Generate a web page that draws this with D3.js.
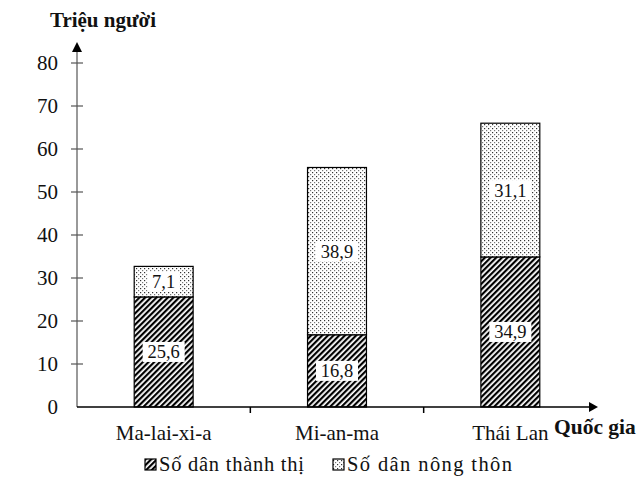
<!DOCTYPE html>
<html>
<head>
<meta charset="utf-8">
<script src="https://cdn.jsdelivr.net/npm/d3@7"></script>
<style>
  body { margin: 0; background: #fff; }
  text { font-family: "Liberation Serif", "Times New Roman", serif; fill: #111; }
</style>
</head>
<body>
<div id="chart"></div>
<script>
const countries = ["Ma-lai-xi-a", "Mi-an-ma", "Thái Lan"];
const urban = [25.6, 16.8, 34.9];
const rural = [7.1, 38.9, 31.1];
const yTicks = [0, 10, 20, 30, 40, 50, 60, 70, 80];
const seriesNames = ["Số dân thành thị", "Số dân nông thôn"];

const W = 644, H = 484;
const x0 = 77, x1 = 597, yBase = 407, yTop = 63;

const svg = d3.select("#chart").append("svg")
  .attr("width", W).attr("height", H);

const defs = svg.append("defs");
// hatch for urban
const hatch = defs.append("pattern")
  .attr("id", "hatch").attr("patternUnits", "userSpaceOnUse")
  .attr("width", 4).attr("height", 4)
  .attr("patternTransform", "rotate(45)");
hatch.append("rect").attr("width", 4).attr("height", 4).attr("fill", "#fff");
hatch.append("rect").attr("width", 2.2).attr("height", 4).attr("fill", "#000");
// dots for rural
const dots = defs.append("pattern")
  .attr("id", "dots").attr("patternUnits", "userSpaceOnUse")
  .attr("width", 4).attr("height", 4);
dots.append("rect").attr("width", 4).attr("height", 4).attr("fill", "#fff");
dots.append("rect").attr("x", 0).attr("y", 0).attr("width", 1.2).attr("height", 1.2).attr("fill", "#333");
dots.append("rect").attr("x", 2).attr("y", 2).attr("width", 1.2).attr("height", 1.2).attr("fill", "#777");

const xScale = d3.scaleBand().domain(countries).range([x0, x1]);
const yScale = d3.scaleLinear().domain([0, 80]).range([yBase, yTop]);
const barW = xScale.bandwidth() * 0.34;

// y axis
svg.append("line")
  .attr("x1", x0).attr("x2", x0).attr("y1", yBase).attr("y2", 50)
  .attr("stroke", "#777").attr("stroke-width", 1.5);
svg.append("path")
  .attr("d", `M${x0 - 5},${52} L${x0 + 5},${52} L${x0},${42} Z`)
  .attr("fill", "#000");

svg.selectAll(".ytick")
  .data(yTicks.filter(d => d > 0))
  .enter().append("line")
  .attr("x1", x0 - 6).attr("x2", x0 + 6)
  .attr("y1", d => yScale(d)).attr("y2", d => yScale(d))
  .attr("stroke", "#555").attr("stroke-width", 1.2);

svg.selectAll(".ylabel")
  .data(yTicks)
  .enter().append("text")
  .attr("x", 58).attr("y", d => yScale(d))
  .attr("dy", "0.35em")
  .attr("text-anchor", "end")
  .style("font-size", "21px")
  .text(d => d);

svg.append("text")
  .attr("x", 103).attr("y", 27)
  .attr("text-anchor", "middle")
  .style("font-size", "21px").style("font-weight", "bold")
  .text("Triệu người");

// bars
const rows = countries.map((c, i) => ({ c, u: urban[i], r: rural[i] }));

svg.selectAll(".urban")
  .data(rows).enter().append("rect")
  .attr("x", d => xScale(d.c) + xScale.bandwidth() / 2 - barW / 2)
  .attr("y", d => yScale(d.u))
  .attr("width", barW)
  .attr("height", d => yBase - yScale(d.u))
  .attr("fill", "url(#hatch)")
  .attr("stroke", "#000").attr("stroke-width", 1.2);

svg.selectAll(".rural")
  .data(rows).enter().append("rect")
  .attr("x", d => xScale(d.c) + xScale.bandwidth() / 2 - barW / 2)
  .attr("y", d => yScale(d.u + d.r))
  .attr("width", barW)
  .attr("height", d => yScale(d.u) - yScale(d.u + d.r))
  .attr("fill", "url(#dots)")
  .attr("stroke", "#000").attr("stroke-width", 1.2);

// value labels with white boxes
function addLabels(getMid, getVal) {
  const g = svg.selectAll(null).data(rows).enter().append("g")
    .attr("transform", d => `translate(${xScale(d.c) + xScale.bandwidth() / 2},${getMid(d)})`);
  g.append("rect")
    .attr("x", d => getVal(d) >= 10 ? -21 : -16)
    .attr("width", d => getVal(d) >= 10 ? 42 : 32)
    .attr("y", -10).attr("height", 20)
    .attr("fill", "#fff");
  g.append("text")
    .attr("text-anchor", "middle").attr("dy", "0.35em")
    .style("font-size", "18.5px")
    .text(d => String(getVal(d)).replace(".", ","));
}
addLabels(d => yScale(d.u / 2), d => d.u);
addLabels(d => yScale(d.u + d.r / 2), d => d.r);

// x axis
svg.append("line")
  .attr("x1", x0).attr("x2", x1 - 4).attr("y1", yBase).attr("y2", yBase)
  .attr("stroke", "#000").attr("stroke-width", 1.5);
svg.append("path")
  .attr("d", `M${x1 - 8},${yBase - 5} L${x1 - 8},${yBase + 5} L${x1 + 1},${yBase} Z`)
  .attr("fill", "#000");
svg.selectAll(".xtick")
  .data(countries.slice(1))
  .enter().append("line")
  .attr("x1", d => xScale(d)).attr("x2", d => xScale(d))
  .attr("y1", yBase).attr("y2", yBase + 6)
  .attr("stroke", "#000").attr("stroke-width", 1.5);

svg.selectAll(".xlabel")
  .data(countries).enter().append("text")
  .attr("x", d => xScale(d) + xScale.bandwidth() / 2)
  .attr("y", 440)
  .attr("text-anchor", "middle")
  .style("font-size", "21px")
  .text(d => d);

svg.append("text")
  .attr("x", 554).attr("y", 434)
  .style("font-size", "21.5px").style("font-weight", "bold")
  .text("Quốc gia");

// legend
const legendX = [145, 333];
const legendLen = [145, 165];
const legendFill = ["url(#hatch)", "url(#dots)"];
const lg = svg.selectAll(".legend")
  .data(seriesNames).enter().append("g")
  .attr("transform", (d, i) => `translate(${legendX[i]},464)`);
lg.append("rect")
  .attr("x", 0).attr("y", -5).attr("width", 11).attr("height", 11)
  .attr("fill", (d, i) => legendFill[i])
  .attr("stroke", "#000").attr("stroke-width", 1.2);
lg.append("text")
  .attr("x", 14).attr("dy", "0.35em")
  .attr("textLength", (d, i) => legendLen[i])
  .attr("lengthAdjust", "spacing")
  .style("font-size", "20.5px")
  .text(d => d);
</script>
</body>
</html>
